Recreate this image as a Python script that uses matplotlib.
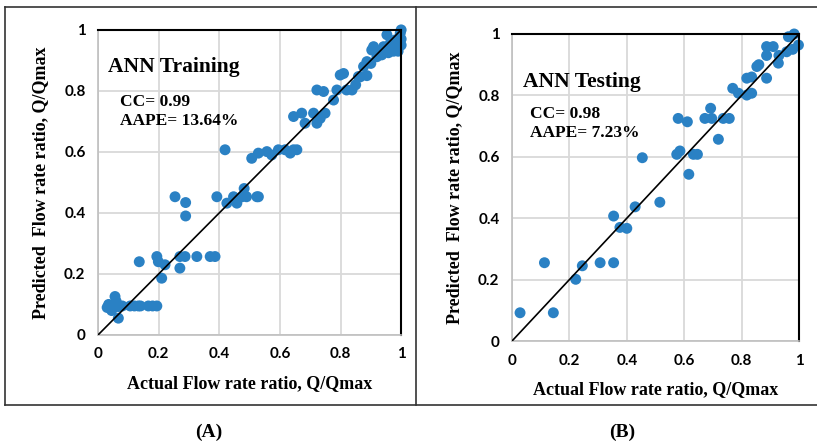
import matplotlib.pyplot as plt
from matplotlib.lines import Line2D

# ANN training: actual vs predicted flow rate ratio
train_x = [0.03, 0.035, 0.045, 0.056, 0.06, 0.067, 0.067, 0.08, 0.106, 0.12, 0.133, 0.14,
           0.166, 0.18, 0.194, 0.136, 0.194, 0.199, 0.221, 0.21, 0.27, 0.287, 0.27, 0.326,
           0.37, 0.386, 0.254, 0.289, 0.289, 0.392, 0.425, 0.447, 0.458, 0.482, 0.49, 0.475,
           0.524, 0.529, 0.419, 0.507, 0.529, 0.557, 0.573, 0.595, 0.617, 0.634, 0.656, 0.645,
           0.645, 0.672, 0.683, 0.711, 0.722, 0.749, 0.733, 0.722, 0.744, 0.777, 0.788, 0.799,
           0.81, 0.82, 0.838, 0.859, 0.85, 0.876, 0.887, 0.903, 0.909, 0.931, 0.942, 0.953,
           0.964, 0.98, 0.986, 0.997, 1.0, 0.99, 0.975, 0.887, 0.92, 0.936, 0.958, 0.865,
           0.9, 0.95, 0.97, 0.99, 1.0, 1.0]
train_y = [0.09, 0.10, 0.08, 0.126, 0.11, 0.093, 0.055, 0.095, 0.095, 0.095, 0.095, 0.095,
           0.095, 0.095, 0.095, 0.24, 0.257, 0.24, 0.23, 0.186, 0.257, 0.257, 0.219, 0.257,
           0.257, 0.257, 0.453, 0.434, 0.39, 0.453, 0.432, 0.453, 0.432, 0.48, 0.453, 0.453,
           0.453, 0.453, 0.607, 0.579, 0.596, 0.601, 0.59, 0.607, 0.607, 0.596, 0.607, 0.607,
           0.716, 0.727, 0.694, 0.727, 0.694, 0.727, 0.71, 0.803, 0.798, 0.77, 0.803, 0.852,
           0.857, 0.803, 0.803, 0.847, 0.82, 0.88, 0.896, 0.934, 0.945, 0.924, 0.945, 0.984,
           0.956, 0.967, 0.945, 0.989, 1.0, 0.93, 0.93, 0.85, 0.912, 0.918, 0.925, 0.846,
           0.89, 0.93, 0.95, 0.96, 0.97, 0.95]

# ANN testing
test_x = [0.028, 0.144, 0.113, 0.222, 0.245, 0.307, 0.354, 0.354, 0.376, 0.4, 0.429, 0.515,
          0.616, 0.454, 0.574, 0.585, 0.632, 0.646, 0.579, 0.611, 0.672, 0.692, 0.696, 0.736,
          0.757, 0.719, 0.769, 0.789, 0.818, 0.835, 0.818, 0.835, 0.853, 0.86, 0.887, 0.887,
          0.91, 0.887, 0.928, 0.93, 0.957, 0.963, 0.983, 0.998, 0.978]
test_y = [0.092, 0.092, 0.255, 0.201, 0.245, 0.255, 0.255, 0.407, 0.37, 0.367, 0.437, 0.452,
          0.543, 0.597, 0.608, 0.619, 0.608, 0.608, 0.725, 0.714, 0.725, 0.758, 0.725, 0.725,
          0.725, 0.657, 0.823, 0.807, 0.801, 0.807, 0.856, 0.86, 0.894, 0.9, 0.856, 0.959,
          0.959, 0.93, 0.905, 0.93, 0.942, 0.991, 1.0, 0.964, 0.95]

ticks = [0, 0.2, 0.4, 0.6, 0.8, 1]
tick_labels = ['0', '0.2', '0.4', '0.6', '0.8', '1']

panels = [
    dict(x=train_x, y=train_y, title='ANN Training', cc='CC= 0.99', aape='AAPE= 13.64%',
         rect=[0.12, 0.249, 0.371, 0.684], tpos=(0.033, 0.879), spos=(0.073, 0.733),
         tag='(A)', tagx=0.255),
    dict(x=test_x, y=test_y, title='ANN Testing', cc='CC= 0.98', aape='AAPE= 7.23%',
         rect=[0.6267, 0.2354, 0.3513, 0.6884], tpos=(0.038, 0.844), spos=(0.063, 0.707),
         tag='(B)', tagx=0.761),
]

serif = 'Liberation Serif'
tickfont = 'Lato'
blue = '#2a81c4'

fig = plt.figure(figsize=(8.17, 4.46), dpi=100)

for p in panels:
    ax = fig.add_axes(p['rect'])
    ax.plot([0, 1], [0, 1], color='black', lw=1.2, zorder=3)
    ax.scatter(p['x'], p['y'], s=62, color=blue, edgecolors='none', zorder=2, clip_on=False)
    ax.set_xlim(0, 1)
    ax.set_ylim(0, 1)
    ax.set_xticks(ticks)
    ax.set_yticks(ticks)
    ax.set_xticklabels(tick_labels, fontfamily=tickfont, fontweight='bold', fontsize=11)
    ax.set_yticklabels(tick_labels, fontfamily=tickfont, fontweight='bold', fontsize=11)
    ax.tick_params(length=0, pad=9)
    ax.grid(True, color='#d9d9d9', lw=1.3, zorder=0)
    ax.set_axisbelow(True)
    for s in ['left', 'bottom']:
        ax.spines[s].set_color('#bfbfbf')
        ax.spines[s].set_linewidth(1.2)
    for s in ['top', 'right']:
        ax.spines[s].set_color('black')
        ax.spines[s].set_linewidth(1.5)
    ax.set_xlabel('Actual Flow rate ratio, Q/Qmax', fontfamily=serif, fontweight='bold',
                  fontsize=13, labelpad=10)
    ax.set_ylabel('Predicted  Flow rate ratio, Q/Qmax', fontfamily=serif, fontweight='bold',
                  fontsize=13, labelpad=11)
    ax.text(p['tpos'][0], p['tpos'][1], p['title'], transform=ax.transAxes,
            fontfamily=serif, fontweight='bold', fontsize=15.5, va='center')
    ax.text(p['spos'][0], p['spos'][1], p['cc'] + '\n' + p['aape'], transform=ax.transAxes,
            fontfamily=serif, fontweight='bold', fontsize=12.5, va='center', linespacing=1.25)
    fig.text(p['tagx'], 0.031, p['tag'], fontfamily=serif, fontweight='bold', fontsize=14,
             ha='center', va='center')

# table frame around the two panels
frame = dict(color='#333333', lw=1.2, transform=fig.transFigure)
top, bottom = 1 - 7 / 446, 1 - 405 / 446
fig.add_artist(Line2D([0.006, 1], [top, top], **frame))
fig.add_artist(Line2D([0.006, 1], [bottom, bottom], **frame))
fig.add_artist(Line2D([0.006, 0.006], [bottom, top], **frame))
fig.add_artist(Line2D([0.509, 0.509], [bottom, top], **frame))

fig.savefig('out.png', dpi=100)
